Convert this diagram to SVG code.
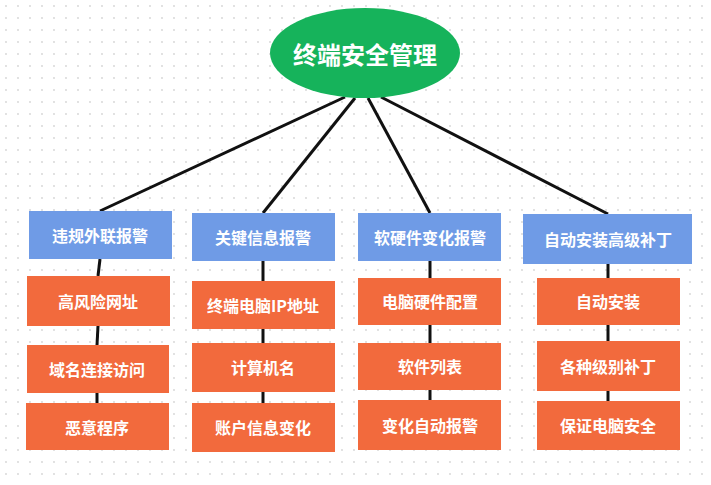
<svg xmlns="http://www.w3.org/2000/svg" width="711" height="485" viewBox="0 0 711 485">
<defs>
<pattern id="dots" width="12" height="12" patternUnits="userSpaceOnUse"><circle cx="6" cy="6" r="0.9" fill="#d4d4d4"/></pattern>
<style>
.b{fill:#6f9be6}.o{fill:#f26a3d}
text{font-family:"Noto Sans CJK SC","Noto Sans",sans-serif;font-weight:bold;fill:#fff;text-anchor:middle;dominant-baseline:central}
.t{font-size:16px}.m{font-size:24px}
line{stroke:#111;stroke-width:3}
</style>
</defs>
<rect width="711" height="485" fill="#fff"/>
<rect width="711" height="485" fill="url(#dots)"/>
<g id="connectors">
<line x1="345" y1="97" x2="100" y2="211"/><line x1="355" y1="98" x2="263" y2="213"/>
<line x1="368" y1="98" x2="430" y2="213"/><line x1="381" y1="97" x2="608" y2="214"/>
<line x1="100" y1="259" x2="98" y2="276"/><line x1="98" y1="326" x2="97" y2="345"/><line x1="97" y1="393" x2="97" y2="403"/>
<line x1="263" y1="261" x2="263" y2="281"/><line x1="263" y1="329" x2="263" y2="343"/><line x1="263" y1="392" x2="263" y2="403"/>
<line x1="430" y1="261" x2="430" y2="278"/><line x1="430" y1="325" x2="430" y2="343"/><line x1="430" y1="390" x2="430" y2="400"/>
<line x1="608" y1="264" x2="608" y2="278"/><line x1="608" y1="325" x2="608" y2="341"/><line x1="608" y1="391" x2="608" y2="401"/>
</g>
<g id="root"><ellipse cx="365" cy="53" rx="95" ry="45" fill="#16b35b"/><text class="m" x="365" y="53">终端安全管理</text></g>
<g id="n1"><rect class="b" x="29" y="211" width="143" height="48"/><text class="t" x="100" y="235">违规外联报警</text></g>
<g id="n2"><rect class="b" x="192" y="213" width="143" height="48"/><text class="t" x="263" y="237">关键信息报警</text></g>
<g id="n3"><rect class="b" x="358" y="213" width="143" height="48"/><text class="t" x="430" y="237">软硬件变化报警</text></g>
<g id="n4"><rect class="b" x="523" y="214" width="169" height="50"/><text class="t" x="608" y="239">自动安装高级补丁</text></g>
<g id="n1a"><rect class="o" x="27" y="276" width="143" height="50"/><text class="t" x="98" y="301">高风险网址</text></g>
<g id="n1b"><rect class="o" x="27" y="345" width="142" height="48"/><text class="t" x="97" y="369">域名连接访问</text></g>
<g id="n1c"><rect class="o" x="26" y="403" width="143" height="47"/><text class="t" x="97" y="427">恶意程序</text></g>
<g id="n2a"><rect class="o" x="192" y="281" width="143" height="48"/><text class="t" x="263" y="305">终端电脑IP地址</text></g>
<g id="n2b"><rect class="o" x="192" y="343" width="143" height="49"/><text class="t" x="263" y="367">计算机名</text></g>
<g id="n2c"><rect class="o" x="192" y="403" width="143" height="49"/><text class="t" x="263" y="427">账户信息变化</text></g>
<g id="n3a"><rect class="o" x="358" y="278" width="143" height="47"/><text class="t" x="430" y="301">电脑硬件配置</text></g>
<g id="n3b"><rect class="o" x="358" y="343" width="143" height="47"/><text class="t" x="430" y="366">软件列表</text></g>
<g id="n3c"><rect class="o" x="358" y="400" width="143" height="50"/><text class="t" x="430" y="425">变化自动报警</text></g>
<g id="n4a"><rect class="o" x="537" y="278" width="143" height="47"/><text class="t" x="608" y="301">自动安装</text></g>
<g id="n4b"><rect class="o" x="537" y="341" width="143" height="50"/><text class="t" x="608" y="366">各种级别补丁</text></g>
<g id="n4c"><rect class="o" x="537" y="401" width="143" height="49"/><text class="t" x="608" y="425">保证电脑安全</text></g>
</svg>
